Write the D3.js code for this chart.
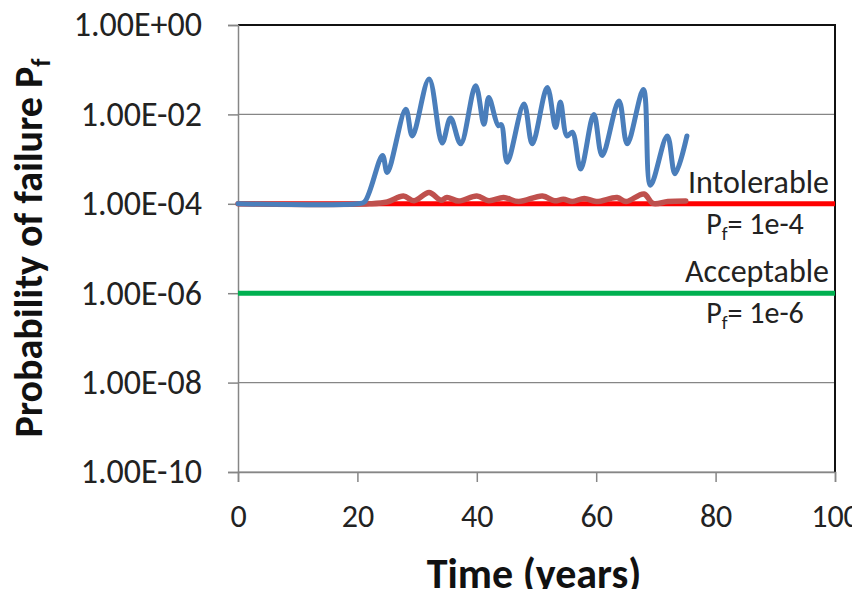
<!DOCTYPE html>
<html>
<head>
<meta charset="utf-8">
<script src="https://cdn.jsdelivr.net/npm/d3@7"></script>
<style>
    html, body { margin: 0; padding: 0; background: #fff; }
    svg { display: block; font-family: Carlito, Lato, sans-serif; }
</style>
</head>
<body>
<svg width="852" height="589"></svg>
<script>
// Years and probabilities
const blueYears = [0, 20, 21.2, 24.2, 25.0, 28.1, 29.2, 32.0, 34.2, 35.6, 37.3, 39.8, 41.2, 42.0, 43.6, 44.1, 45.1,
    47.9, 49.3, 51.8, 53.2, 54.0, 55.1, 56.0, 57.4, 59.6, 61.0, 63.8, 65.2, 67.9, 69.1, 71.9, 73.2, 75.2];
const blueValues = [1e-4, 1e-4, 1.1e-4, 1.2e-3, 5.0e-4, 1.3e-2, 3.3e-3, 6.2e-2, 2.3e-3, 8.3e-3, 2.2e-3, 4.4e-2, 6.0e-3,
    2.4e-2, 5.6e-3, 5.9e-3, 8.5e-4, 1.7e-2, 2.2e-3, 4.0e-2, 5.1e-3, 1.9e-2, 3.3e-3, 4.0e-3, 6.0e-4, 1.0e-2,
    1.2e-3, 2.0e-2, 2.2e-3, 3.6e-2, 2.6e-4, 3.3e-3, 4.7e-4, 3.3e-3];

const redYears = [0, 22, 25, 27.7, 29.5, 32, 34, 35, 37, 40, 42, 44.5, 47, 51, 53, 54.5, 56, 58, 60, 63.5, 65, 68, 69.5, 72, 75];
const redValues = [1e-4, 1e-4, 1.1e-4, 1.5e-4, 1.17e-4, 1.78e-4, 1.2e-4, 1.38e-4, 1.15e-4, 1.5e-4, 1.17e-4, 1.38e-4,
    1.12e-4, 1.5e-4, 1.17e-4, 1.26e-4, 1.12e-4, 1.32e-4, 1.12e-4, 1.38e-4, 1.12e-4, 1.66e-4, 1.02e-4, 1.12e-4, 1.15e-4];

// Limit lines
const limitNames = ['Intolerable', 'Acceptable'];
const limitValues = [1e-4, 1e-6];
const limitLabels = ['1e-4', '1e-6'];

// Axis ticks
const xTicks = [0, 20, 40, 60, 80, 100];
const yTicks = [1, 1e-2, 1e-4, 1e-6, 1e-8, 1e-10];

const svg = d3.select('svg');
const margin = { left: 238, right: 835, top: 25, bottom: 472 };

const xScale = d3.scaleLinear().domain([0, 100]).range([margin.left, margin.right]);
const yScale = d3.scaleLog().domain([1e-10, 1]).range([margin.bottom, margin.top]);

// "1.00E-04" style like the spreadsheet
const sciFormat = v => {
    const e = Math.round(Math.log10(v));
    return '1.00E' + (e >= 0 ? '+' : '-') + String(Math.abs(e)).padStart(2, '0');
};

// Gridlines
svg.append('g')
    .selectAll('line')
    .data(yTicks.slice(1))
    .join('line')
    .attr('x1', margin.left).attr('x2', margin.right)
    .attr('y1', d => yScale(d)).attr('y2', d => yScale(d))
    .attr('stroke', '#868686').attr('stroke-width', 1.2);

// Top and right border of the plot area
svg.append('path')
    .attr('d', `M${margin.left},${margin.top}H${margin.right}V${margin.bottom}`)
    .attr('fill', 'none').attr('stroke', '#111').attr('stroke-width', 2);

// Y axis
const yAxis = svg.append('g')
    .attr('transform', `translate(${margin.left},0)`)
    .call(d3.axisLeft(yScale).tickValues(yTicks).tickFormat(sciFormat).tickSize(10).tickPadding(26));

// X axis
const xAxis = svg.append('g')
    .attr('transform', `translate(0,${margin.bottom})`)
    .call(d3.axisBottom(xScale).tickValues(xTicks).tickFormat(d3.format('d')).tickSize(10).tickPadding(22));

[yAxis, xAxis].forEach(ax => {
    ax.select('.domain').attr('stroke', '#868686').attr('stroke-width', 1.5);
    ax.selectAll('.tick line').attr('stroke', '#868686').attr('stroke-width', 1.5);
    ax.selectAll('.tick text').attr('fill', '#222').style('font-size', '32px').style('font-family', 'Carlito, Lato, sans-serif');
});
yAxis.selectAll('.tick text').style('font-size', '34px');

// Limit lines (green first, red above)
const limitColors = ['#ff0000', '#00b050'];
svg.append('g')
    .selectAll('line')
    .data(limitValues.map((v, i) => ({ v, c: limitColors[i] })).reverse())
    .join('line')
    .attr('x1', margin.left).attr('x2', margin.right)
    .attr('y1', d => yScale(d.v)).attr('y2', d => yScale(d.v))
    .attr('stroke', d => d.c).attr('stroke-width', 5);

const line = d3.line()
    .x(d => xScale(d[0]))
    .y(d => yScale(d[1]))
    .curve(d3.curveCatmullRom.alpha(0.5));

svg.append('path')
    .datum(redYears.map((t, i) => [t, redValues[i]]))
    .attr('d', line)
    .attr('fill', 'none').attr('stroke', '#bf504d').attr('stroke-width', 5.5)
    .attr('stroke-linejoin', 'round').attr('stroke-linecap', 'round');

svg.append('path')
    .datum(blueYears.map((t, i) => [t, blueValues[i]]))
    .attr('d', line)
    .attr('fill', 'none').attr('stroke', '#4a7ebb').attr('stroke-width', 5)
    .attr('stroke-linejoin', 'round').attr('stroke-linecap', 'round');

// Limit annotations
const notes = svg.append('g').attr('fill', '#222');
limitValues.forEach((v, i) => {
    const y = yScale(v);
    notes.append('text')
        .attr('x', 829).attr('y', y - 11)
        .attr('text-anchor', 'end')
        .style('font-size', '32px')
        .text(limitNames[i]);
    const t = notes.append('text')
        .attr('x', 755).attr('y', y + 30)
        .attr('text-anchor', 'middle')
        .style('font-size', '30px');
    t.append('tspan').text('P');
    t.append('tspan').attr('dy', 6).style('font-size', '19px').text('f');
    t.append('tspan').attr('dy', -6).text('= ' + limitLabels[i]);
});

// Axis titles
const yTitle = svg.append('text')
    .attr('transform', `translate(42,248) rotate(-90)`)
    .attr('text-anchor', 'middle')
    .style('font-size', '40px').style('font-weight', 'bold').attr('fill', '#111');
yTitle.append('tspan').text('Probability of failure P');
yTitle.append('tspan').attr('dy', 8).style('font-size', '26px').text('f');

svg.append('text')
    .attr('x', 534).attr('y', 588)
    .attr('text-anchor', 'middle')
    .style('font-size', '42px').style('font-weight', 'bold').attr('fill', '#111')
    .text('Time (years)');
</script>
</body>
</html>
